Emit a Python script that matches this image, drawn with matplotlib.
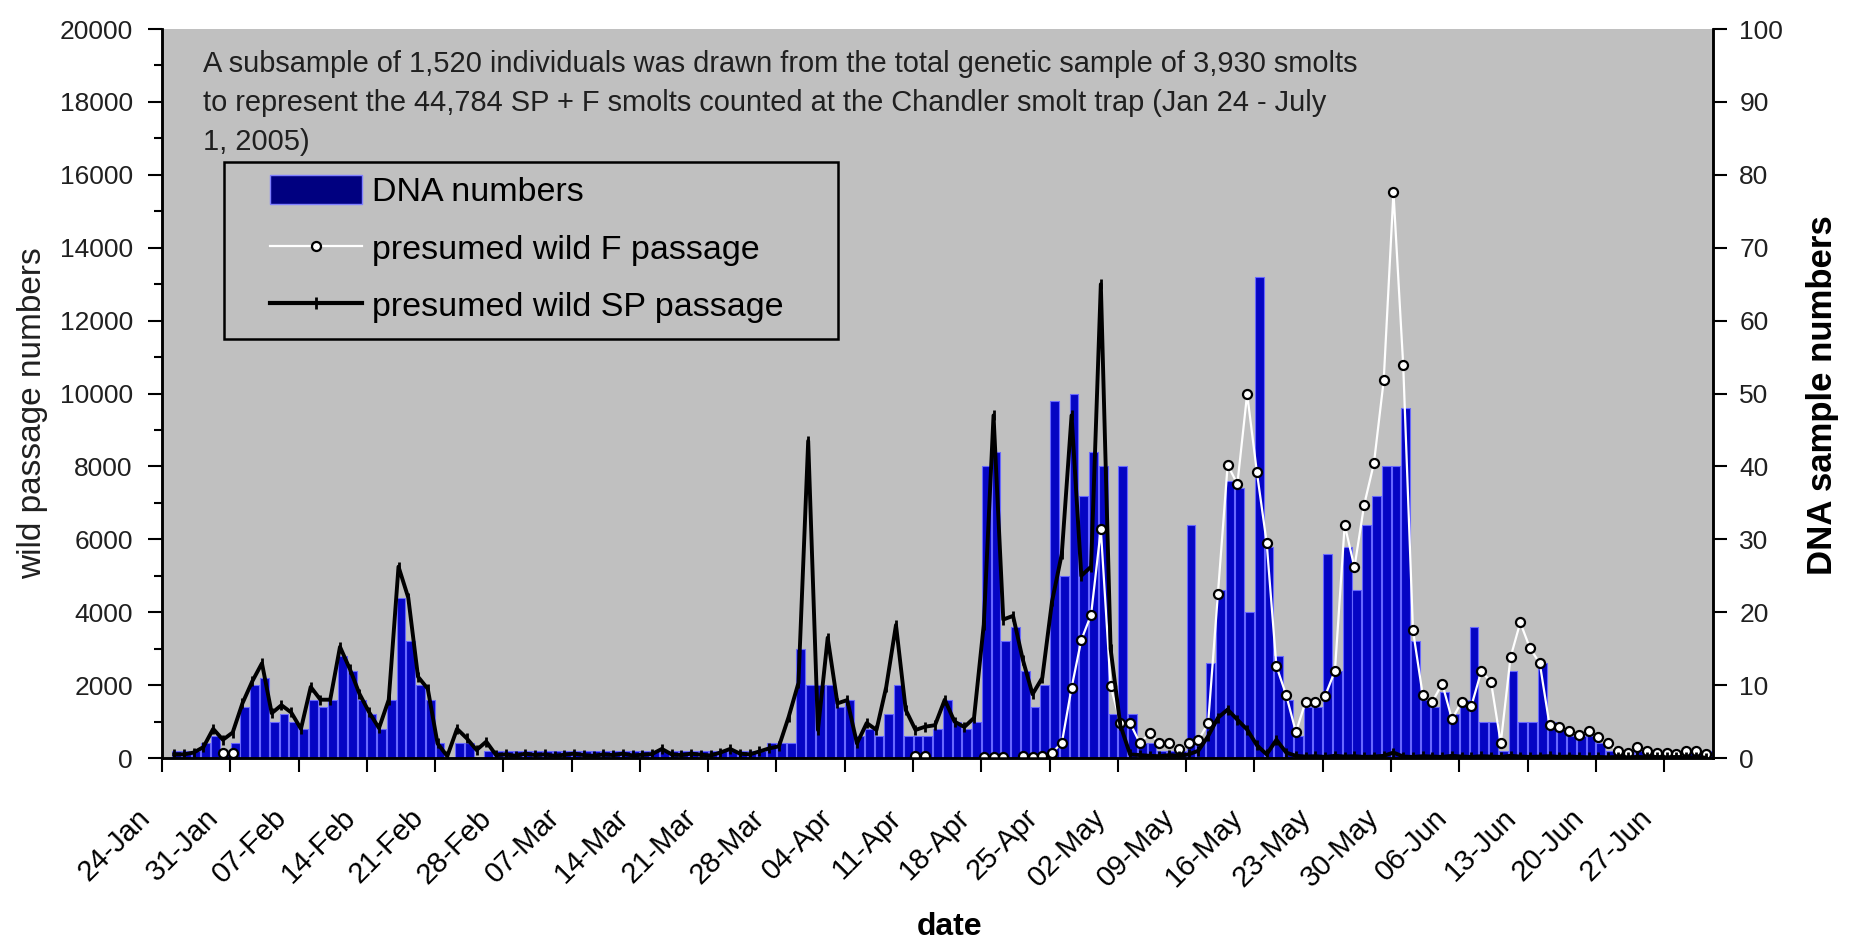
import numpy as np
import pandas as pd
import matplotlib
matplotlib.use('Agg')
import matplotlib.pyplot as plt
import matplotlib.transforms as mtransforms
from matplotlib.patches import Patch, Rectangle
from matplotlib.lines import Line2D
from matplotlib.ticker import MultipleLocator
from matplotlib import font_manager

nan = np.nan

# one value per day, 24 Jan .. 1 Jul 2005
dates = pd.date_range('2005-01-24', '2005-07-01', freq='D')

# DNA sample numbers (right axis)
dna_numbers = [
    0, 1, 1, 1, 2, 3, 1, 2, 7, 10,
    11, 5, 6, 5, 4, 8, 7, 8, 14, 12,
    8, 6, 4, 8, 22, 16, 10, 8, 2, 0,
    2, 2, 0, 1, 1, 1, 1, 1, 1, 1,
    1, 1, 1, 1, 1, 1, 1, 1, 1, 1,
    1, 1, 1, 1, 1, 1, 1, 1, 1, 1,
    1, 1, 2, 2, 2, 15, 10, 10, 10, 7,
    8, 3, 4, 3, 6, 10, 3, 3, 3, 4,
    8, 5, 4, 5, 40, 42, 16, 18, 12, 7,
    10, 49, 25, 50, 36, 42, 40, 6, 40, 6,
    2, 2, 1, 1, 1, 32, 2, 13, 23, 38,
    37, 20, 66, 29, 14, 8, 3, 7, 7, 28,
    12, 29, 23, 32, 36, 40, 40, 48, 16, 8,
    7, 9, 6, 8, 18, 5, 5, 1, 12, 5,
    5, 13, 5, 4, 3, 3, 3, 2, 1, 1,
    1, 1, 1, 0, 1, 0, 1, 1, 1,
]

# presumed wild SP passage (left axis)
sp_passage = [
    nan, 100, 100, 150, 300, 800, 500, 700, 1500, 2100,
    2600, 1230, 1450, 1250, 800, 1950, 1600, 1600, 3050, 2450,
    1760, 1250, 820, 1600, 5250, 4400, 2230, 1900, 400, 50,
    800, 540, 220, 450, 80, 100, 60, 120, 80, 100,
    60, 90, 120, 80, 60, 100, 80, 120, 70, 90,
    110, 250, 100, 80, 120, 90, 70, 150, 250, 120,
    100, 180, 265, 320, 1130, 2060, 8700, 770, 3300, 1500,
    1590, 400, 960, 770, 1950, 3650, 1320, 770, 860, 900,
    1600, 1000, 850, 1100, 3660, 9400, 3800, 3900, 2700, 1750,
    2200, 4300, 5600, 9400, 5000, 5250, 13000, 3000, 900, 100,
    80, 60, 50, 80, 60, 100, 200, 600, 1100, 1330,
    1050, 780, 350, 100, 500, 150, 60, 40, 50, 30,
    60, 40, 50, 30, 40, 60, 150, 40, 30, 50,
    40, 30, 60, 40, 30, 50, 40, 30, 60, 40,
    30, 40, 50, 30, 40, 30, 20, 30, 20, 30,
    20, 30, 20, 30, 20, 30, 20, 20, 10,
]

# presumed wild F passage (left axis), blank days left out
f_passage = ([nan] * 6 + [130, 130] + [nan] * 69 + [60, 60] + [nan] * 5
             + [40, 40, 40] + [nan] + [
    50, 40, 60, 150,
    410, 1925, 3240, 3930, 6270, 1980, 960, 960,
    410, 680, 410, 410, 250, 410, 490, 950, 4510, 8040,
    7520, 9990, 7840, 5910, 2520, 1730, 710, 1550, 1550, 1710,
    2390, 6400, 5230, 6950, 8090, 10360, 15520, 10770, 3500, 1730,
    1550, 2040, 1060, 1550, 1440, 2380, 2090, 410, 2760, 3720,
    3010, 2600, 900, 860, 730, 625, 730, 570, 410, 190,
    150, 300, 190, 150, 150, 100, 190, 190, 100,
])

note_lines = [
    'A subsample of 1,520 individuals was drawn from the total genetic sample of 3,930 smolts',
    'to represent the 44,784 SP + F smolts counted at the Chandler smolt trap (Jan 24 - July',
    '1, 2005)',
]


def pick(name, fallback='Liberation Sans'):
    try:
        font_manager.findfont(font_manager.FontProperties(family=name),
                              fallback_to_default=False)
        return name
    except ValueError:
        return fallback


SANS = pick('Liberation Sans', 'DejaVu Sans')
NARROW = pick('Liberation Sans Narrow', SANS)
ytick_size = 22 if NARROW != SANS else 19

plt.rcParams['font.family'] = SANS

day = np.arange(len(dates))
dna = np.array(dna_numbers, dtype=float)
sp = np.array(sp_passage, dtype=float)
fp = np.array(f_passage, dtype=float)

fig = plt.figure(figsize=(18.51, 9.40), dpi=100)
ax = fig.add_axes([0.0875, 0.1936, 0.8379, 0.7755])
ax2 = ax.twinx()

# bars under the lines
ax.set_zorder(2)
ax2.set_zorder(1)
ax.patch.set_visible(False)
ax2.patch.set_visible(True)
ax2.patch.set_facecolor('#C0C0C0')

ax2.bar(day + 0.5, dna, width=0.9, color='#0505C4', edgecolor='#6868FF', linewidth=0.8)

ax.plot(day + 0.25, fp, color='white', lw=1.6, marker='o', ms=6.5,
        mfc='white', mec='black', mew=1.6)
ax.plot(day + 0.25, sp, color='black', lw=2.8, marker='|', ms=7, mew=2)

ax.set_xlim(0, len(dates))
ax.set_ylim(0, 20000)
ax2.set_ylim(0, 100)

ax.set_xticks(day[::7])
ax.set_xticklabels(dates[::7].strftime('%d-%b'), rotation=45, ha='right', va='center',
                   rotation_mode='anchor', fontsize=21, family=SANS)
ax.tick_params(axis='x', direction='out', length=10, width=1.5, pad=30)
shift = mtransforms.ScaledTranslation(-0.16, 0, fig.dpi_scale_trans)
for lab in ax.get_xticklabels():
    lab.set_transform(lab.get_transform() + shift)

ax.yaxis.set_major_locator(MultipleLocator(2000))
ax.yaxis.set_minor_locator(MultipleLocator(1000))
ax.tick_params(axis='y', which='major', direction='out', length=10, width=1.5, pad=11)
ax.tick_params(axis='y', which='minor', direction='out', length=6, width=1.5)
ax2.yaxis.set_major_locator(MultipleLocator(10))
ax2.tick_params(axis='y', direction='out', length=10, width=1.5, pad=9)
for lab in ax.get_yticklabels() + ax2.get_yticklabels():
    lab.set_family(NARROW)
    lab.set_fontsize(ytick_size)
    lab.set_color('#202020')

for a in (ax, ax2):
    a.spines['top'].set_visible(False)
    for s in ('left', 'right', 'bottom'):
        a.spines[s].set_linewidth(1.8)

# note in the top left of the plot area
for i, line in enumerate(note_lines):
    ax.text(0.0264, 0.941 - i * 0.0535, line, transform=ax.transAxes,
            fontsize=20.9, va='baseline', ha='left', color='#202020')

# legend
handles = [
    Patch(facecolor='#000080', edgecolor='#8080FF', linewidth=1),
    Line2D([], [], color='white', lw=1.6, marker='o', ms=6.5, mfc='white', mec='black', mew=1.6),
    Line2D([], [], color='black', lw=3, marker='|', ms=9, mew=2),
]
labels = ['DNA numbers', 'presumed wild F passage', 'presumed wild SP passage']
ax.legend(handles, labels, loc='center left', bbox_to_anchor=(0.0696, 0.698),
          frameon=False, borderpad=0, borderaxespad=0, fontsize=24.5,
          handlelength=2.7, handleheight=0.9, handletextpad=0.3, labelspacing=0.72)
ax.add_patch(Rectangle((0.040, 0.5748), 0.3959, 0.2428, transform=ax.transAxes,
                       fill=False, edgecolor='black', lw=1.8, zorder=5))

fig.text(33 / 1851, 1 - 413 / 940, 'wild passage numbers', rotation=90,
         ha='center', va='center', fontsize=24, color='#202020')
fig.text(1822 / 1851, 1 - 395 / 940, 'DNA sample numbers', rotation=90,
         ha='center', va='center', fontsize=25, fontweight='bold')
fig.text(950 / 1851, 1 - 927 / 940, 'date', ha='center', va='center',
         fontsize=23, fontweight='bold')

fig.savefig('out.png', dpi=100, facecolor='white')
